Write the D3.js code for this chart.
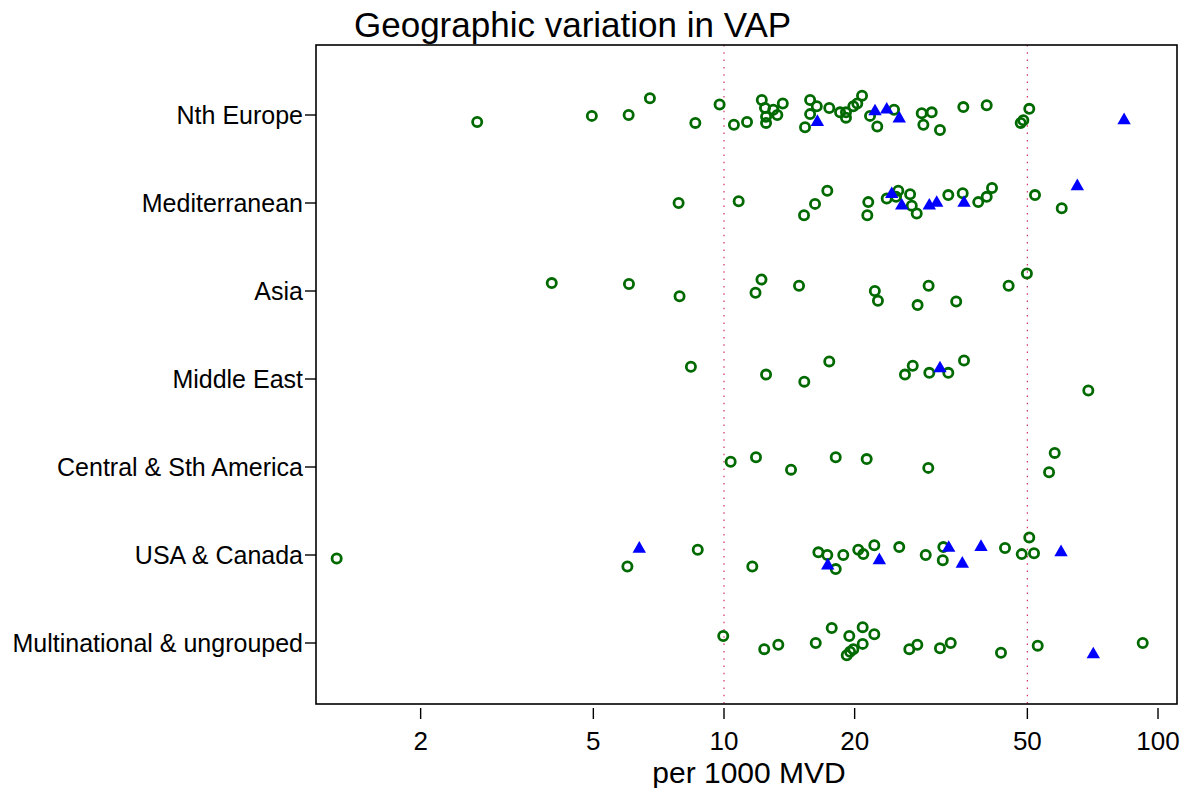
<!DOCTYPE html>
<html>
<head>
<meta charset="utf-8">
<script src="https://cdn.jsdelivr.net/npm/d3@7"></script>
<style>
  body { margin: 0; background: #fff; }
  text { font-family: "Liberation Sans", Arial, sans-serif; fill: #000; }
</style>
</head>
<body>
<div id="chart"></div>
<script>
// regions down the y axis
var regions = ["Nth Europe", "Mediterranean", "Asia", "Middle East",
  "Central & Sth America", "USA & Canada", "Multinational & ungrouped"]

// x axis ticks and reference lines
var xTicks = [2, 5, 10, 20, 50, 100]
var refLines = [10, 50]

// hollow circles per region: [rate per 1000 MVD, jitter]
var circles = [
  [[2.70,0.08],[4.96,0.01],[6.03,0.00],[6.75,-0.19],[8.59,0.09],[9.77,-0.12],[10.54,0.11],
   [11.30,0.08],[12.22,-0.17],[12.43,-0.08],[12.50,0.02],[12.50,0.09],[12.99,-0.06],[13.27,0.00],
   [13.66,-0.13],[15.79,-0.17],[16.36,-0.10],[15.79,-0.01],[15.37,0.14],[17.48,-0.08],[18.51,-0.03],
   [19.10,-0.03],[19.10,0.03],[19.86,-0.10],[20.28,-0.13],[20.80,-0.22],[21.70,0.01],[22.55,0.13],
   [24.65,-0.06],[28.55,-0.02],[30.10,-0.03],[28.80,0.11],[31.45,0.17],[35.60,-0.09],[40.30,-0.11],
   [48.27,0.09],[48.94,0.06],[50.51,-0.07]],
  [[7.86,0.00],[10.81,-0.02],[15.29,0.14],[16.21,0.01],[17.30,-0.14],[21.50,-0.01],[21.39,0.14],
   [23.71,-0.05],[25.21,-0.14],[24.91,-0.07],[26.84,-0.10],[27.08,0.03],[27.80,0.12],[32.87,-0.09],
   [35.48,-0.11],[38.53,-0.01],[40.30,-0.07],[41.45,-0.17],[52.07,-0.09],[60.00,0.06]],
  [[4.01,-0.09],[6.04,-0.08],[7.90,0.06],[12.20,-0.13],[11.82,0.02],[14.89,-0.06],[22.26,0.00],
   [22.63,0.11],[29.61,-0.06],[27.93,0.16],[34.28,0.12],[45.27,-0.06],[49.88,-0.20]],
  [[8.39,-0.14],[12.50,-0.05],[15.31,0.03],[17.48,-0.20],[26.12,-0.05],[27.22,-0.15],[29.72,-0.07],
   [32.87,-0.07],[35.73,-0.21],[69.09,0.13]],
  [[10.36,-0.06],[11.85,-0.11],[14.27,0.03],[18.09,-0.11],[21.32,-0.09],[29.56,0.01],[57.81,-0.16],
   [56.10,0.06]],
  [[1.281,0.04],[5.99,0.13],[8.70,-0.06],[11.62,0.13],[16.50,-0.03],[17.30,0.00],[18.09,0.16],
   [18.83,0.00],[20.39,-0.06],[20.94,-0.01],[22.20,-0.11],[25.34,-0.09],[29.16,0.00],[32.02,-0.09],
   [31.92,0.06],[44.41,-0.08],[48.53,-0.01],[50.51,-0.20],[51.80,-0.02]],
  [[9.96,-0.08],[12.38,0.07],[13.34,0.02],[16.27,0.00],[17.71,-0.17],[19.44,-0.08],[20.87,-0.18],
   [22.20,-0.10],[20.87,0.01],[19.86,0.07],[19.52,0.10],[19.18,0.14],[26.73,0.07],[27.89,0.02],
   [31.45,0.06],[33.30,0.00],[43.47,0.11],[52.82,0.03],[92.21,0.00]]
]

// filled triangles per region: [rate per 1000 MVD, jitter]
var triangles = [
  [[16.41,0.08],[22.28,-0.04],[23.71,-0.06],[25.34,0.04],[83.53,0.06]],
  [[24.35,-0.10],[25.68,0.03],[29.72,0.03],[30.91,0.00],[35.73,0.00],[65.17,-0.19]],
  [],
  [[31.45,-0.12]],
  [],
  [[6.38,-0.07],[17.34,0.12],[22.80,0.06],[32.94,-0.08],[35.41,0.10],[39.10,-0.09],[59.78,-0.03]],
  [[70.94,0.13]]
]

var width = 1194
var height = 788
var plotLeft = 316, plotRight = 1177, plotTop = 45, plotBottom = 704

var svg = d3.select("#chart")
  .append("svg")
    .attr("width", width)
    .attr("height", height)

var x = d3.scaleLog()
  .domain([1.148, 110.6])
  .range([plotLeft, plotRight])

var y = d3.scalePoint()
  .domain(regions)
  .range([115, 643])

var step = y.step()

// reference lines
svg.append("g")
  .selectAll("line")
  .data(refLines)
  .enter().append("line")
    .attr("x1", d => x(d)).attr("x2", d => x(d))
    .attr("y1", plotTop).attr("y2", plotBottom)
    .attr("stroke", "#d0306a")
    .attr("stroke-width", 1.2)
    .attr("stroke-dasharray", "1.5,5.8")

// points
regions.forEach(function(r, i){
  svg.append("g")
    .selectAll("circle")
    .data(circles[i])
    .enter().append("circle")
      .attr("cx", d => x(d[0]))
      .attr("cy", d => y(r) + d[1] * step)
      .attr("r", 4.6)
      .attr("fill", "none")
      .attr("stroke", "#006a00")
      .attr("stroke-width", 2.8)

  svg.append("g")
    .selectAll("path")
    .data(triangles[i])
    .enter().append("path")
      .attr("d", d3.symbol().type(d3.symbolTriangle).size(78))
      .attr("transform", d => "translate(" + x(d[0]) + "," + (y(r) + d[1] * step) + ")")
      .attr("fill", "#0000ff")
})

// frame
svg.append("rect")
  .attr("x", plotLeft).attr("y", plotTop)
  .attr("width", plotRight - plotLeft).attr("height", plotBottom - plotTop)
  .attr("fill", "none")
  .attr("stroke", "#000")
  .attr("stroke-width", 1.6)

// y ticks and labels
var yAxis = svg.append("g")
yAxis.selectAll("line")
  .data(regions)
  .enter().append("line")
    .attr("x1", plotLeft - 11).attr("x2", plotLeft)
    .attr("y1", d => y(d)).attr("y2", d => y(d))
    .attr("stroke", "#000")
    .attr("stroke-width", 1.4)
yAxis.selectAll("text")
  .data(regions)
  .enter().append("text")
    .attr("x", 303)
    .attr("y", d => y(d) + 9)
    .attr("text-anchor", "end")
    .style("font-size", "25px")
    .text(d => d)

// x ticks and labels
var xAxis = svg.append("g")
xAxis.selectAll("line")
  .data(xTicks)
  .enter().append("line")
    .attr("x1", d => x(d)).attr("x2", d => x(d))
    .attr("y1", plotBottom + 4).attr("y2", plotBottom + 15)
    .attr("stroke", "#000")
    .attr("stroke-width", 1.4)
xAxis.selectAll("text")
  .data(xTicks)
  .enter().append("text")
    .attr("x", d => x(d))
    .attr("y", 750)
    .attr("text-anchor", "middle")
    .style("font-size", "26px")
    .text(d => d)

// axis title and chart title
svg.append("text")
  .attr("x", 749).attr("y", 783)
  .attr("text-anchor", "middle")
  .style("font-size", "30px")
  .text("per 1000 MVD")

svg.append("text")
  .attr("x", 354).attr("y", 37)
  .style("font-size", "35px")
  .text("Geographic variation in VAP")
</script>
</body>
</html>
